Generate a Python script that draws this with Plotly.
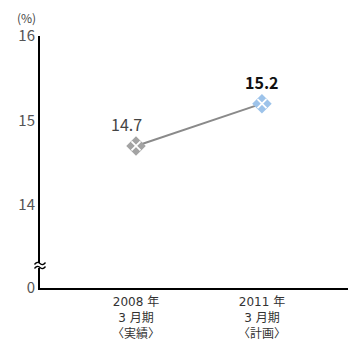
import plotly.graph_objects as go

# Ratio (%) by fiscal period
periods = ["2008 年<br>3 月期<br>〈実績〉", "2011 年<br>3 月期<br>〈計画〉"]
values = [14.7, 15.2]
marker_colors = ["#a3a3a3", "#9dc3ea"]
label_colors = ["#444444", "#111111"]
label_bold = [False, True]

# Broken y-axis: the "0" tick sits just below 14
y_zero_pos = 13.02
y_ticks = [y_zero_pos, 14, 15, 16]
y_ticktext = ["0", "14", "15", "16"]

FONT = "Noto Sans CJK JP, Noto Sans, sans-serif"
WIDE = "DejaVu Sans, Noto Sans CJK JP, sans-serif"
xs = list(range(len(periods)))
x_range = [-0.762, 1.683]

W, H = 348, 340
ML, MR, MT, MB = 40, 0, 36, 52
PW, PH = W - ML - MR, H - MT - MB


def px(x):
    return (x - ML) / PW


def py(y):
    return (H - MB - y) / PH


fig = go.Figure()

fig.add_trace(go.Scatter(
    x=xs, y=values, mode="lines",
    line=dict(color="#8a8a8a", width=2),
    hoverinfo="skip", showlegend=False,
))
# diamond markers split into four small diamonds by a white X
fig.add_trace(go.Scatter(
    x=xs, y=values, mode="markers",
    marker=dict(symbol="diamond", size=15, color=marker_colors, line=dict(width=0)),
    showlegend=False,
))
fig.add_trace(go.Scatter(
    x=xs, y=values, mode="markers",
    marker=dict(symbol="x-thin", size=9, line=dict(color="white", width=1.8)),
    showlegend=False,
))

for x, v, c, b in zip(xs, values, label_colors, label_bold):
    txt = f"<b>{v:.1f}</b>" if b else f"{v:.1f}"
    fig.add_annotation(
        x=x, y=v, xref="x", yref="y", text=txt, showarrow=False,
        xanchor="center", yanchor="bottom",
        xshift=-9 if not b else 0, yshift=8,
        font=dict(family=FONT, size=16, color=c),
    )

# unit label
fig.add_annotation(
    x=px(26), y=py(17), xref="paper", yref="paper", text="(%)", showarrow=False,
    xanchor="center", yanchor="middle",
    font=dict(family=FONT, size=12, color="#444444"),
)

# axis break mark
fig.add_shape(
    type="rect", xref="paper", yref="paper",
    x0=px(38), x1=px(42), y0=py(268), y1=py(263),
    fillcolor="white", line=dict(width=0), layer="above",
)
for yy in (263.5, 267.5):
    fig.add_shape(
        type="path", xref="paper", yref="paper",
        path=(f"M{px(34.5)},{py(yy + 1)} Q{px(37)},{py(yy - 2.5)} {px(40)},{py(yy)} "
              f"T{px(45.5)},{py(yy - 1)}"),
        line=dict(color="black", width=1.3), layer="above",
    )

fig.update_layout(
    width=W, height=H,
    margin=dict(l=ML, r=MR, t=MT, b=MB),
    paper_bgcolor="white", plot_bgcolor="white",
    font=dict(family=FONT),
    xaxis=dict(
        range=x_range, tickvals=xs, ticktext=periods,
        showgrid=False, zeroline=False,
        showline=True, linecolor="black", linewidth=2,
        ticks="", tickfont=dict(family=WIDE, size=12, color="#333333"),
        ticklabelstandoff=2,
    ),
    yaxis=dict(
        range=[y_zero_pos, 16], tickvals=y_ticks, ticktext=y_ticktext,
        showgrid=False, zeroline=False,
        showline=True, linecolor="black", linewidth=2,
        ticks="", tickfont=dict(family=FONT, size=15, color="#555555"),
    ),
)

fig.write_html("out.html")
